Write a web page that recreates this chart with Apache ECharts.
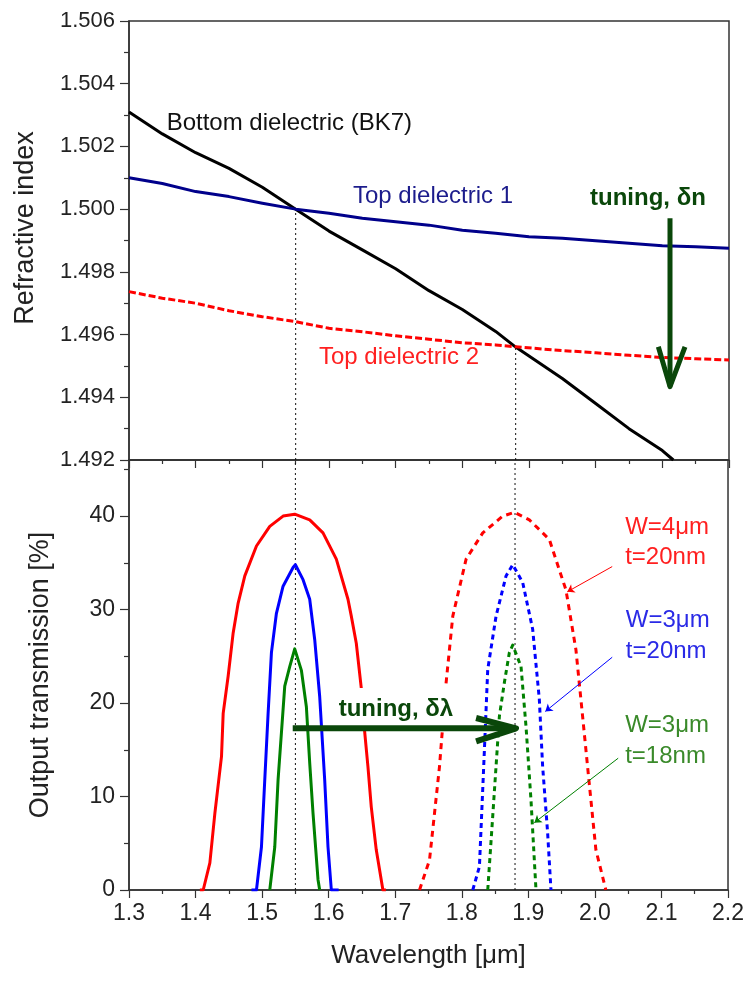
<!DOCTYPE html>
<html><head><meta charset="utf-8">
<script src="https://cdn.jsdelivr.net/npm/echarts@6/dist/echarts.min.js"></script>
<style>html,body{margin:0;padding:0;background:#fff}#c{width:747px;height:984px}</style>
</head><body><div id="c"></div>
<script>
// ---------------- data ----------------
// Top panel: refractive index vs wavelength (µm)
const bk7X  = [1.30,1.35,1.40,1.45,1.50,1.55,1.60,1.65,1.70,1.75,1.80,1.85,1.88,1.95,2.00,2.05,2.10,2.1165];
const bk7N  = [1.5031,1.5024,1.5018,1.5013,1.5007,1.5000,1.4993,1.4987,1.4981,1.4974,1.4968,1.4961,1.4956,1.4946,1.4938,1.4930,1.4923,1.4920];
const top1X = [1.30,1.35,1.40,1.45,1.50,1.55,1.60,1.65,1.70,1.75,1.80,1.85,1.90,1.95,2.00,2.05,2.10,2.15,2.20];
const top1N = [1.5010,1.50082,1.50056,1.5004,1.50019,1.5000,1.49987,1.49971,1.4996,1.49949,1.49933,1.49923,1.49912,1.49907,1.49899,1.49891,1.49883,1.4988,1.49875];
const top2X = [1.30,1.35,1.40,1.45,1.50,1.55,1.60,1.65,1.70,1.75,1.80,1.85,1.88,1.95,2.00,2.05,2.10,2.15,2.20];
const top2N = [1.49737,1.49716,1.4970,1.49676,1.49657,1.49641,1.4962,1.49609,1.49596,1.49585,1.49574,1.49567,1.49561,1.49549,1.49542,1.49534,1.49527,1.49523,1.49519];

// Bottom panel: output transmission (%) vs wavelength (µm)
const redSolidX   = [1.4065,1.4115,1.4215,1.429,1.439,1.4415,1.449,1.4565,1.464,1.474,1.4915,1.5115,1.5315,1.549,1.5715,1.5915,1.6115,1.629,1.634,1.6415,1.649,1.654,1.659,1.664,1.6715,1.6815,1.686];
const redSolidT   = [0,0,2.9,8.2,14.3,18.9,22.9,27.5,30.7,33.6,36.8,38.9,40.0,40.2,39.6,38.2,35.4,31.1,29.3,26.4,21.6,17.0,13.2,8.9,4.3,0,0];
const blueSolidX  = [1.484,1.4915,1.499,1.504,1.509,1.514,1.5215,1.5315,1.5465,1.55,1.5615,1.5715,1.579,1.5865,1.594,1.599,1.604,1.615];
const blueSolidT  = [0,0,4.6,11.8,18.9,25.4,29.6,32.5,34.5,34.8,33.2,31.1,26.8,20.7,11.8,4.6,0,0];
const greenSolidX = [1.5115,1.519,1.524,1.529,1.534,1.5415,1.549,1.559,1.5665,1.5715,1.5765,1.584,1.5865];
const greenSolidT = [0,4.6,11.8,16.8,21.8,23.9,25.8,23.5,19.6,13.6,8.2,1.1,0];
const redDotX   = [1.7365,1.7515,1.7665,1.7765,1.7865,1.8065,1.8315,1.8615,1.879,1.9015,1.9315,1.9565,1.9715,1.9815,1.9915,2.0015,2.0165];
const redDotT   = [0,3.2,13.2,22.2,29.3,35.4,38.2,40.0,40.4,39.6,37.5,32.1,25.7,18.6,11.4,4.3,0];
const blueDotX  = [1.8165,1.8265,1.834,1.839,1.8515,1.8665,1.8765,1.8915,1.9065,1.9165,1.9215,1.929,1.934];
const blueDotT  = [0,2.5,15,23.6,29.3,33.6,34.8,32.9,27.9,20.4,13.2,6.1,0];
const greenDotX = [1.839,1.8465,1.8565,1.864,1.8715,1.8765,1.889,1.8965,1.904,1.9115];
const greenDotT = [0,7.9,18.6,22.2,25.4,26.2,23.9,17.5,9.6,0];

// Resonance (phase-matching) wavelengths and crossing indices
const crossX = [1.55, 1.88];
const crossN = [1.5000, 1.4956];

// Tick values
const xTicks   = [1.3,1.4,1.5,1.6,1.7,1.8,1.9,2.0,2.1,2.2];
const nTicks   = [1.492,1.494,1.496,1.498,1.500,1.502,1.504,1.506];
const tMajor   = [0,10,20,30,40];
const tMinor   = [5,15,25,35,45];

// Tuning arrows (data coordinates)
const arrowN_x = 2.1115, arrowN_from = 1.49971, arrowN_to = 1.49434, arrowN_wingX = [2.094, 2.134], arrowN_wingY = 1.49561;
const arrowL_y = 17.3, arrowL_from = 1.546, arrowL_to = 1.8815, arrowL_wingX = 1.8215, arrowL_wingY = [18.4, 15.9];

// Label pointer lines (start at label, end at curve)
const pointerFrom = [[2.026,34.6],[2.026,24.9],[2.035,14.1]];
const pointerTo   = [[1.9585,31.9],[1.9255,19.1],[1.909,7.2]];

// ---------------- chart ----------------
const FONT = '"Liberation Sans", Arial, Helvetica, sans-serif';
const DKGREEN = '#0a470a';
const zip = (a, b) => a.map((v, i) => [v, b[i]]);
const chart = echarts.init(document.getElementById('c'), null, {renderer: 'canvas'});

const axisLine = {show: true, lineStyle: {color: '#333', width: 1.5}};
const lineSeries = (name, xs, ys, color, width, type, xi, yi, z) => ({
  name, type: 'line', xAxisIndex: xi, yAxisIndex: yi, data: zip(xs, ys),
  showSymbol: false, symbol: 'none', smooth: false, z: z || 2, silent: true,
  lineStyle: {color, width, type: type || 'solid', cap: 'butt', join: 'round'}
});

const option = {
  animation: false,
  backgroundColor: '#fff',
  grid: [
    {left: 129, top: 21, width: 600, height: 439, show: true, borderColor: '#333', borderWidth: 1.5, backgroundColor: 'transparent'},
    {left: 129, top: 460, width: 600, height: 430, show: true, borderColor: '#333', borderWidth: 1.5, backgroundColor: 'transparent'}
  ],
  xAxis: [
    {type: 'value', gridIndex: 0, min: 1.3, max: 2.2, interval: 0.1, position: 'bottom',
     axisLine, axisTick: {show: true, inside: false, length: 8, lineStyle: {color: '#333', width: 1.2}},
     minorTick: {show: true, splitNumber: 2, length: 4, lineStyle: {color: '#333', width: 1.2}},
     axisLabel: {show: false}, splitLine: {show: false}, minorSplitLine: {show: false}},
    {type: 'value', gridIndex: 1, min: 1.3, max: 2.2, interval: 0.1, position: 'bottom',
     axisLine, axisTick: {show: true, inside: false, length: 8, lineStyle: {color: '#333', width: 1.2}},
     minorTick: {show: true, splitNumber: 2, length: 4, lineStyle: {color: '#333', width: 1.2}},
     axisLabel: {show: true, margin: 12, fontSize: 23, fontFamily: FONT, color: '#222',
       customValues: xTicks, formatter: v => Number(v).toFixed(1)},
     splitLine: {show: false}, minorSplitLine: {show: false},
     name: 'Wavelength [μm]', nameLocation: 'middle', nameGap: 53,
     nameTextStyle: {fontSize: 26, fontFamily: FONT, color: '#222'}}
  ],
  yAxis: [
    {type: 'value', gridIndex: 0, min: 1.492, max: 1.506, interval: 0.002, position: 'left',
     axisLine, axisTick: {show: true, inside: false, length: 9, lineStyle: {color: '#333', width: 1.2}},
     minorTick: {show: true, splitNumber: 2, length: 5, lineStyle: {color: '#333', width: 1.2}},
     axisLabel: {show: true, margin: 14, fontSize: 22, fontFamily: FONT, color: '#222',
       customValues: nTicks, formatter: v => Number(v).toFixed(3)},
     splitLine: {show: false}, minorSplitLine: {show: false},
     name: 'Refractive index', nameLocation: 'middle', nameGap: 90, nameRotate: 90,
     nameTextStyle: {fontSize: 27, fontFamily: FONT, color: '#222', padding: [0, 0, 0, 25]}},
    {type: 'value', gridIndex: 1, min: 0, max: 46, position: 'left',
     axisLine, axisTick: {show: true, inside: false, length: 9, customValues: tMajor, lineStyle: {color: '#333', width: 1.2}},
     axisLabel: {show: true, margin: 14, fontSize: 23, fontFamily: FONT, color: '#222', customValues: tMajor},
     splitLine: {show: false},
     name: 'Output transmission [%]', nameLocation: 'middle', nameGap: 75, nameRotate: 90,
     nameTextStyle: {fontSize: 27, fontFamily: FONT, color: '#222'}},
    {type: 'value', gridIndex: 1, min: 0, max: 46, position: 'left',
     axisLine: {show: false},
     axisTick: {show: true, inside: false, length: 5, customValues: tMinor, lineStyle: {color: '#333', width: 1.2}},
     axisLabel: {show: false}, splitLine: {show: false}}
  ],
  series: [
    // top panel
    lineSeries('Bottom dielectric (BK7)', bk7X, bk7N, '#000000', 3, 'solid', 0, 0, 3),
    lineSeries('Top dielectric 1', top1X, top1N, '#00008b', 3, 'solid', 0, 0, 3),
    lineSeries('Top dielectric 2', top2X, top2N, '#ff0000', 3, [7, 3], 0, 0, 3),
    lineSeries('cross1', [crossX[0], crossX[0]], [1.492, crossN[0]], '#111', 1, [2, 3], 0, 0, 1),
    lineSeries('cross2', [crossX[1], crossX[1]], [1.492, crossN[1]], '#111', 1, [2, 3], 0, 0, 1),
    lineSeries('arrowN', [arrowN_x, arrowN_x], [arrowN_from, arrowN_to], DKGREEN, 5, 'solid', 0, 0, 20),
    lineSeries('arrowNHead', [arrowN_wingX[0], arrowN_x, arrowN_wingX[1]], [arrowN_wingY, arrowN_to, arrowN_wingY], DKGREEN, 5, 'solid', 0, 0, 20),
    // bottom panel
    lineSeries('cross1b', [crossX[0], crossX[0]], [0, 46], '#111', 1, [2, 3], 1, 1, 1),
    lineSeries('cross2b', [crossX[1], crossX[1]], [0, 46], '#111', 1, [2, 3], 1, 1, 1),
    lineSeries('W=4 solid', redSolidX, redSolidT, '#ff0000', 3, 'solid', 1, 1, 3),
    lineSeries('W=3 t=20 solid', blueSolidX, blueSolidT, '#0000ff', 3, 'solid', 1, 1, 3),
    lineSeries('W=3 t=18 solid', greenSolidX, greenSolidT, '#008000', 3, 'solid', 1, 1, 3),
    lineSeries('W=4 tuned', redDotX, redDotT, '#ff0000', 3, [6, 5], 1, 1, 3),
    lineSeries('W=3 t=20 tuned', blueDotX, blueDotT, '#0000ff', 3, [5, 4], 1, 1, 3),
    lineSeries('W=3 t=18 tuned', greenDotX, greenDotT, '#008000', 3, [5, 4], 1, 1, 3),
    lineSeries('arrowL', [arrowL_from, arrowL_to], [arrowL_y, arrowL_y], DKGREEN, 6, 'solid', 1, 1, 20),
    lineSeries('arrowLHead', [arrowL_wingX, arrowL_to, arrowL_wingX], [arrowL_wingY[0], arrowL_y, arrowL_wingY[1]], DKGREEN, 6, 'solid', 1, 1, 20),
    {type: 'lines', coordinateSystem: 'cartesian2d', xAxisIndex: 1, yAxisIndex: 1, z: 5, silent: true,
     symbol: ['none', 'arrow'], symbolSize: 7,
     data: [
       {coords: [pointerFrom[0], pointerTo[0]], lineStyle: {color: '#ff0000'}},
       {coords: [pointerFrom[1], pointerTo[1]], lineStyle: {color: '#0000ff'}},
       {coords: [pointerFrom[2], pointerTo[2]], lineStyle: {color: '#008000'}}
     ],
     lineStyle: {width: 1, opacity: 1, curveness: 0}}
  ]
};
chart.setOption(option);

// ---------------- text annotations placed via the chart's own scales ----------------
const annotations = [
  {text: 'Bottom dielectric (BK7)', grid: 0, x: 1.3565, y: 1.50274, color: '#111'},
  {text: 'Top dielectric 1', grid: 0, x: 1.636, y: 1.5004, color: '#1c1c8c'},
  {text: 'Top dielectric 2', grid: 0, x: 1.585, y: 1.49527, color: '#ff2020'},
  {text: 'tuning, δn', grid: 0, x: 1.9915, y: 1.50034, color: DKGREEN, bold: true},
  {text: 'tuning, δλ', grid: 1, x: 1.612, y: 19.3, color: DKGREEN, bold: true, bg: true},
  {text: 'W=4μm', grid: 1, x: 2.0455, y: 38.8, color: '#ff2020'},
  {text: 't=20nm', grid: 1, x: 2.0455, y: 35.6, color: '#ff2020'},
  {text: 'W=3μm', grid: 1, x: 2.0465, y: 28.8, color: '#2a2ae6'},
  {text: 't=20nm', grid: 1, x: 2.0465, y: 25.5, color: '#2a2ae6'},
  {text: 'W=3μm', grid: 1, x: 2.0455, y: 17.6, color: '#3a8a2a'},
  {text: 't=18nm', grid: 1, x: 2.0455, y: 14.3, color: '#3a8a2a'}
];
const graphics = annotations.map(a => {
  const p = chart.convertToPixel({xAxisIndex: a.grid, yAxisIndex: a.grid}, [a.x, a.y]);
  const st = {
    text: a.text, x: p[0], y: p[1], fill: a.color,
    font: (a.bold ? 'bold ' : 'normal ') + '24px ' + FONT,
    align: 'left', verticalAlign: 'middle', textAlign: 'left', textVerticalAlign: 'middle'
  };
  if (a.bg) { st.backgroundColor = '#ffffff'; st.padding = [10, 4, 9, 2]; }
  return {type: 'text', z: 10, silent: true, style: st};
});
chart.setOption({graphic: {elements: graphics}});
</script>
</body></html>
